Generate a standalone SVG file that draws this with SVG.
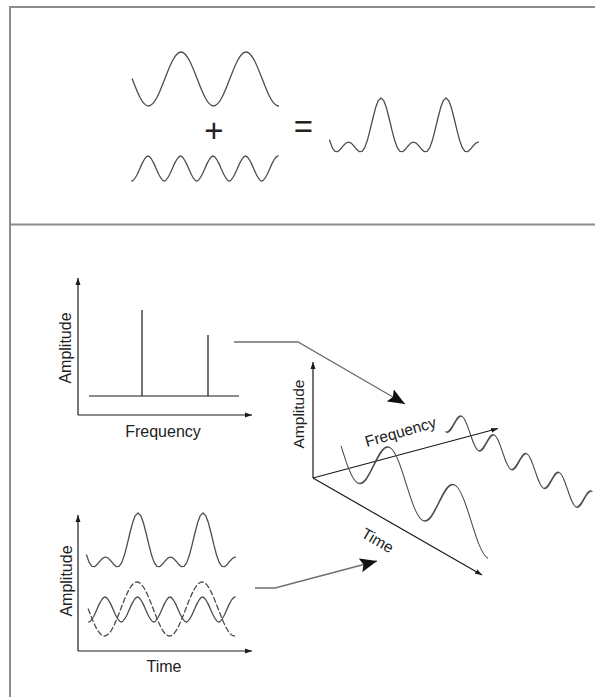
<svg xmlns="http://www.w3.org/2000/svg" xmlns:xlink="http://www.w3.org/1999/xlink" width="595" height="697" viewBox="0 0 595 697">
<style>
.frame{fill:none;stroke:#8c8c8c;stroke-width:2}
.wave{fill:none;stroke:#4d4d4d;stroke-width:1.3;stroke-linejoin:round;stroke-linecap:round}
.axis{fill:none;stroke:#1a1a1a;stroke-width:1.2;marker-end:url(#ah)}
.line{fill:none;stroke:#1a1a1a;stroke-width:1.2}
.conn{fill:none;stroke:#6e6e6e;stroke-width:1.3;marker-end:url(#big)}
.lbl{font-family:"Liberation Sans",Arial,sans-serif;font-size:16px;fill:#222;text-anchor:middle}
.lbl3{font-size:15.5px}
.op{font-family:"Liberation Sans",Arial,sans-serif;font-size:33px;fill:#222;text-anchor:middle}
</style>
<defs>
<marker id="ah" markerUnits="userSpaceOnUse" markerWidth="8" markerHeight="6" refX="7" refY="3" orient="auto"><path d="M0,0.5 L7,3 L0,5.5 Z" fill="#1a1a1a"/></marker>
<marker id="big" markerUnits="userSpaceOnUse" markerWidth="18" markerHeight="14" refX="17" refY="7" orient="auto"><path d="M0,0 L17,7 L0,14 L3,7 Z" fill="#111"/></marker>
<path id="w1" d="M132.25 79 C137.55 92.83 142.62 106 148.5 106 C160.31 106 169.19 52 181 52 S201.69 106 213.5 106 S234.19 52 246 52 S266.69 106 278.5 106"/>
<path id="w2" d="M131.75 181 C137.66 181 142.1 156 148 156 S158.35 181 164.25 181 S174.6 156 180.5 156 S190.85 181 196.75 181 S207.1 156 213 156 S223.35 181 229.25 181 S239.6 156 245.5 156 S255.85 181 261.75 181 S272.1 156 278 156"/>
<polyline id="ws" points="329.54,140.06 332.25,147.6 334.96,151.44 337.66,151.7 340.37,149.36 343.08,145.95 345.79,143.1 348.5,142 351.21,143.1 353.92,145.95 356.62,149.36 359.33,151.7 362.04,151.44 364.75,147.6 367.46,140.06 370.16,129.7 372.87,118.24 375.58,107.85 378.29,100.6 381,98 383.71,100.6 386.41,107.85 389.12,118.24 391.83,129.7 394.54,140.06 397.25,147.6 399.96,151.44 402.66,151.7 405.37,149.36 408.08,145.95 410.79,143.1 413.5,142 416.21,143.1 418.91,145.95 421.62,149.36 424.33,151.7 427.04,151.44 429.75,147.6 432.46,140.06 435.16,129.7 437.87,118.24 440.58,107.85 443.29,100.6 446,98 448.71,100.6 451.41,107.85 454.12,118.24 456.83,129.7 459.54,140.06 462.25,147.6 464.96,151.44 467.66,151.7 470.37,149.36 473.08,145.95 475.79,143.1 478.5,142"/>
</defs>
<rect width="595" height="697" fill="#fff"/>
<g id="frame">
<path class="frame" d="M9 7 H595 M10 6 V697 M10 224.5 H595"/>
</g>
<g id="top-panel">
<use href="#w1" class="wave"/>
<text class="op" x="214" y="141.6">+</text>
<use href="#w2" class="wave"/>
<text class="op" x="303.5" y="137.7">=</text>
<use href="#ws" class="wave"/>
</g>
<g id="frequency-chart">
<path class="axis" d="M78 415 V278"/>
<path class="axis" d="M78 415 H252"/>
<path class="line" d="M89 396 H239 M142 396 V310 M208 396 V335"/>
<text class="lbl" x="163" y="437">Frequency</text>
<text class="lbl" transform="translate(71,348) rotate(-90)">Amplitude</text>
</g>
<g id="time-chart">
<path class="axis" d="M78 651 V515"/>
<path class="axis" d="M78 651 H252"/>
<use href="#ws" class="wave" transform="translate(-243,415)"/>
<use href="#w1" class="wave" stroke-dasharray="5 3" transform="translate(-44,530)"/>
<use href="#w2" class="wave" transform="translate(-43,441)"/>
<text class="lbl" x="164" y="672">Time</text>
<text class="lbl" transform="translate(72,581) rotate(-90)">Amplitude</text>
</g>
<g id="chart-3d">
<path class="axis" d="M313 478 V362"/>
<path class="axis" d="M313 478 L498 428.5"/>
<path class="axis" d="M313 478 L482 575"/>
<use href="#w1" class="wave" transform="matrix(1,0.577,0,1,209,291.22)"/>
<use href="#w2" class="wave" transform="matrix(1,0.577,0,1,314,174.9)"/>
<text class="lbl lbl3" transform="translate(304,414) rotate(-90)">Amplitude</text>
<text class="lbl lbl3" transform="translate(402,437) rotate(-16)">Frequency</text>
<text class="lbl lbl3" transform="translate(375,545) rotate(30)">Time</text>
</g>
<g id="connectors">
<path class="conn" d="M234 342 H298 L405 404"/>
<path class="conn" d="M255 588 H275 L377 561"/>
</g>
</svg>
